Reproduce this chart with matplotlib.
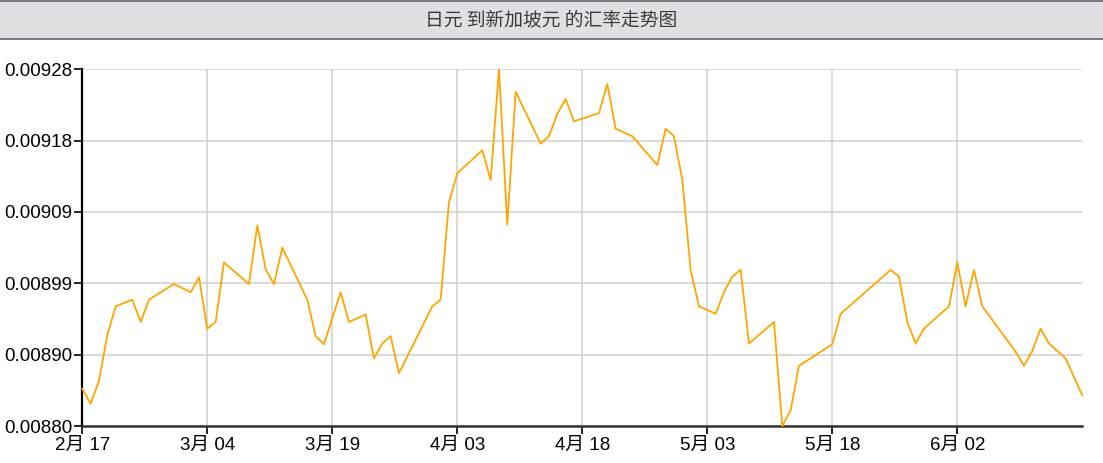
import datetime as dt

import numpy as np
import matplotlib
matplotlib.use("Agg")
import matplotlib.pyplot as plt
from matplotlib.patches import Rectangle
from matplotlib.lines import Line2D

TITLE = "日元 到新加坡元 的汇率走势图"

dates = [
    "2025-02-17", "2025-02-18", "2025-02-19", "2025-02-20", "2025-02-21", "2025-02-23",
    "2025-02-24", "2025-02-25", "2025-02-28",
    "2025-03-02", "2025-03-03", "2025-03-04", "2025-03-05", "2025-03-06", "2025-03-09",
    "2025-03-10", "2025-03-11", "2025-03-12", "2025-03-13", "2025-03-16", "2025-03-17",
    "2025-03-18", "2025-03-20", "2025-03-21", "2025-03-23", "2025-03-24", "2025-03-25",
    "2025-03-26", "2025-03-27", "2025-03-31",
    "2025-04-01", "2025-04-02", "2025-04-03", "2025-04-06", "2025-04-07", "2025-04-08",
    "2025-04-09", "2025-04-10", "2025-04-13", "2025-04-14", "2025-04-15", "2025-04-16",
    "2025-04-17", "2025-04-20", "2025-04-21", "2025-04-22", "2025-04-24", "2025-04-27",
    "2025-04-28", "2025-04-29", "2025-04-30",
    "2025-05-01", "2025-05-02", "2025-05-04", "2025-05-05", "2025-05-06", "2025-05-07",
    "2025-05-08", "2025-05-11", "2025-05-12", "2025-05-13", "2025-05-14", "2025-05-18",
    "2025-05-19", "2025-05-25", "2025-05-26", "2025-05-27", "2025-05-28", "2025-05-29",
    "2025-06-01", "2025-06-02", "2025-06-03", "2025-06-04", "2025-06-05", "2025-06-09",
    "2025-06-10", "2025-06-11", "2025-06-12", "2025-06-13", "2025-06-15", "2025-06-17",
]

rates = [
    0.008850, 0.008830, 0.008861, 0.008922, 0.008961, 0.008970, 0.008940, 0.008970, 0.008991,
    0.008980, 0.009000, 0.008931, 0.008940, 0.009020, 0.008991, 0.009070, 0.009011, 0.008991,
    0.009040, 0.008970, 0.008921, 0.008910, 0.008980, 0.008940, 0.008950, 0.008891, 0.008911,
    0.008921, 0.008871, 0.008961,
    0.008970, 0.009101, 0.009140, 0.009171, 0.009131, 0.009280, 0.009071, 0.009250, 0.009180,
    0.009190, 0.009220, 0.009240, 0.009210, 0.009221, 0.009260, 0.009200, 0.009190, 0.009151,
    0.009200, 0.009190, 0.009131,
    0.009010, 0.008961, 0.008951, 0.008980, 0.009001, 0.009010, 0.008911, 0.008940, 0.008800,
    0.008821, 0.008881, 0.008910, 0.008951, 0.009010, 0.009001, 0.008940, 0.008911, 0.008931,
    0.008961, 0.009020, 0.008961, 0.009010, 0.008961, 0.008900, 0.008881, 0.008901, 0.008931,
    0.008911, 0.008891, 0.008841,
]

x = [dt.datetime.strptime(d, "%Y-%m-%d") for d in dates]
y = np.array(rates)

FONT = ["Liberation Sans", "Noto Sans CJK SC", "DejaVu Sans"]
plt.rcParams["font.family"] = FONT

W, H = 1103, 463
fig = plt.figure(figsize=(W / 100, H / 100), dpi=100)

# title bar
bar_h = 39 / H
fig.patches.append(Rectangle((0, 1 - bar_h), 1, bar_h, transform=fig.transFigure,
                             facecolor="#dee0e4", edgecolor="none", zorder=0))
for yy in (1 - 1 / H, 1 - bar_h):
    fig.lines.append(Line2D([0, 1], [yy, yy], transform=fig.transFigure,
                            color="#6c7178", linewidth=1.3))
fig.text(0.5, 1 - 20 / H, TITLE, ha="center", va="center", fontsize=13.5,
         color="#3a3a3a", family=["Noto Sans CJK SC", "DejaVu Sans"])

left, right = 82.3 / W, 1082.3 / W
bottom, top = 1 - 426 / H, 1 - 69.3 / H
ax = fig.add_axes([left, bottom, right - left, top - bottom])

ax.plot(x, y, color="#ffa500", linewidth=1.3, clip_on=False, zorder=3)

ax.set_xlim(x[0], x[-1])
ax.set_ylim(y.min(), y.max())

yt = np.linspace(y.min(), y.max(), 6)
ax.set_yticks(yt)
ax.set_yticklabels([f"{v:.5f}" for v in yt])

xt = [x[0] + dt.timedelta(days=15 * k) for k in range(8)]
ax.set_xticks(xt)
ax.set_xticklabels([f"{d.month}月 {d.day:02d}" for d in xt])

ax.grid(True, color="#d3d3d3", linewidth=1.2)
ax.set_axisbelow(True)
for s in ("top", "right"):
    ax.spines[s].set_visible(False)
ax.spines["left"].set_color("black")
ax.spines["left"].set_linewidth(1.6)
ax.spines["bottom"].set_color("#333333")
ax.spines["bottom"].set_linewidth(1.8)
ax.tick_params(axis="y", length=6, width=1.2, pad=1, labelsize=13.5, colors="black")
ax.tick_params(axis="x", length=6, width=1.2, pad=2, labelsize=13.5, colors="black")

fig.savefig("out.png", dpi=100)
